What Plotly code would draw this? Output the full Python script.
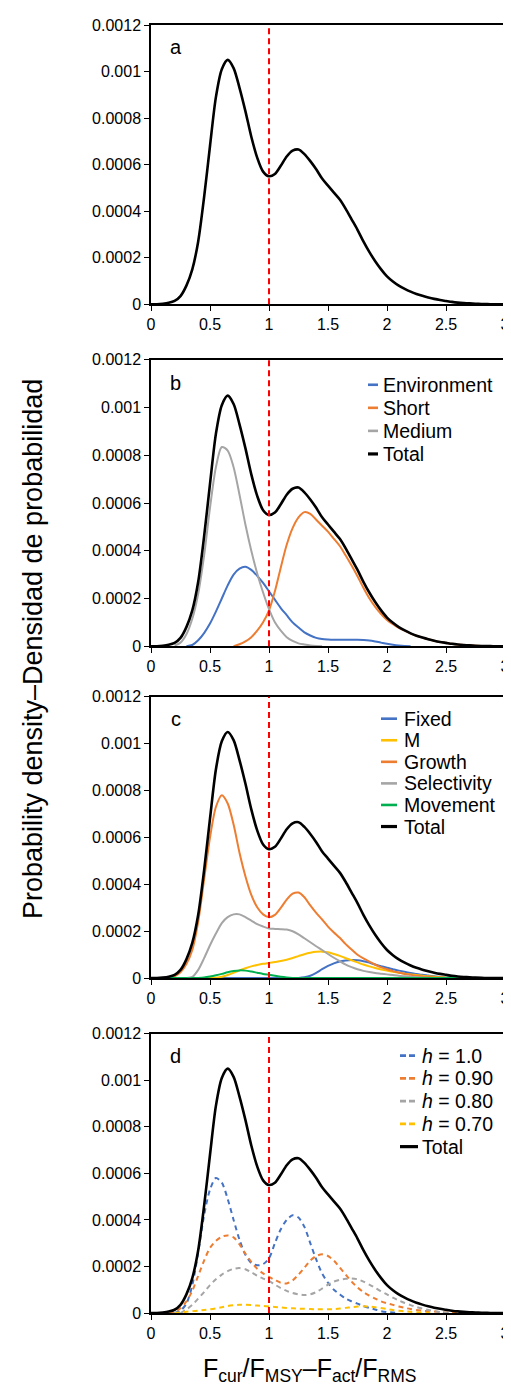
import plotly.graph_objects as go

# x grid (F ratio); density values below are in units of 1e-4
X = [0, 0.05, 0.1, 0.15, 0.2, 0.25, 0.3, 0.35, 0.4, 0.45, 0.5, 0.55, 0.6, 0.65, 0.7, 0.75,
     0.8, 0.85, 0.9, 0.95, 1.0, 1.05, 1.1, 1.15, 1.2, 1.25, 1.3, 1.35, 1.4, 1.45, 1.5, 1.55,
     1.6, 1.65, 1.7, 1.75, 1.8, 1.85, 1.9, 1.95, 2.0, 2.05, 2.1, 2.15, 2.2, 2.25, 2.3, 2.35,
     2.4, 2.45, 2.5, 2.55, 2.6, 2.65, 2.7, 2.75, 2.8, 2.85, 2.9, 2.95, 3.0]
SCALE = 1e-4
N = None

TOTAL = [0, 0, 0.02, 0.06, 0.14, 0.35, 0.8, 1.5, 2.7, 4.6, 6.8,
         8.9, 10.1, 10.5, 10.15, 9.3, 8.3, 7.2, 6.3, 5.7, 5.5,
         5.6, 5.95, 6.35, 6.6, 6.65, 6.45, 6.15, 5.8, 5.4, 5.1,
         4.8, 4.5, 4.1, 3.65, 3.2, 2.7, 2.25, 1.85, 1.5, 1.2,
         0.98, 0.8, 0.66, 0.54, 0.44, 0.36, 0.29, 0.23, 0.18, 0.14,
         0.1, 0.07, 0.05, 0.035, 0.02, 0.01, 0.005, 0, 0, 0]

# Panel b
ENVIRONMENT = [N, N, N, N, N, N, 0, 0.05, 0.25, 0.55, 0.95,
               1.45, 2.0, 2.55, 3.0, 3.25, 3.33, 3.2, 2.95, 2.65, 2.3,
               1.95, 1.6, 1.3, 1.0, 0.78, 0.58, 0.45, 0.35, 0.3, 0.28,
               0.27, 0.27, 0.27, 0.27, 0.27, 0.26, 0.24, 0.2, 0.15, 0.1,
               0.06, 0.03, 0.01, 0, N, N, N, N, N, N,
               N, N, N, N, N, N, N, N, N, N]
SHORT = [N, N, N, N, N, N, N, N, N, N, N,
         N, N, N, 0, 0.08, 0.2, 0.38, 0.65, 1.0, 1.5,
         2.3, 3.3, 4.25, 4.95, 5.4, 5.62, 5.55, 5.3, 5.05, 4.8,
         4.5, 4.2, 3.8, 3.38, 2.93, 2.45, 2.01, 1.65, 1.35, 1.1,
         0.92, 0.77, 0.65, 0.54, 0.44, 0.36, 0.29, 0.23, 0.18, 0.14,
         0.1, 0.07, 0.05, 0.035, 0.02, 0.01, 0.005, 0, N, N]
MEDIUM = [N, N, N, N, 0.03, 0.15, 0.5, 1.15, 2.2, 3.8, 5.8,
          7.5, 8.35, 8.2, 7.5, 6.35, 5.1, 4.0, 3.05, 2.25, 1.55,
          1.0, 0.65, 0.38, 0.22, 0.12, 0.07, 0.03, 0.01, 0, N,
          N, N, N, N, N, N, N, N, N, N,
          N, N, N, N, N, N, N, N, N, N,
          N, N, N, N, N, N, N, N, N, N]

# Panel c
FIXED = [0, 0, 0, 0, 0, 0, 0, 0, 0, 0, 0,
         0, 0, 0, 0, 0, 0, 0, 0, 0, 0,
         0, 0, 0, 0, 0.01, 0.04, 0.1, 0.22, 0.38, 0.52,
         0.63, 0.71, 0.75, 0.77, 0.76, 0.72, 0.66, 0.58, 0.51, 0.44,
         0.38, 0.32, 0.27, 0.22, 0.18, 0.14, 0.11, 0.08, 0.05, 0.03,
         0.01, 0, 0, 0, 0, 0, 0, 0, 0, 0]
M_NAT = [0, 0, 0, 0, 0, 0, 0, 0, 0, 0, 0,
         0.02, 0.06, 0.13, 0.23, 0.33, 0.42, 0.5, 0.56, 0.61, 0.65,
         0.69, 0.73, 0.78, 0.86, 0.94, 1.02, 1.08, 1.12, 1.13, 1.1,
         1.03, 0.95, 0.85, 0.76, 0.67, 0.58, 0.5, 0.43, 0.37, 0.32,
         0.27, 0.23, 0.19, 0.16, 0.13, 0.1, 0.08, 0.06, 0.04, 0.02,
         0.01, 0, 0, 0, 0, 0, 0, 0, 0, 0]
GROWTH = [0, 0, 0, 0.02, 0.08, 0.25, 0.6, 1.2, 2.4, 4.2, 6.0,
          7.3, 7.8, 7.45, 6.55, 5.35, 4.35, 3.55, 3.02, 2.72, 2.6,
          2.7, 3.0, 3.35, 3.6, 3.65, 3.45, 3.1, 2.78, 2.5, 2.2,
          1.95, 1.72, 1.45, 1.22, 1.0, 0.84, 0.7, 0.57, 0.46, 0.38,
          0.3, 0.24, 0.18, 0.14, 0.1, 0.07, 0.05, 0.03, 0.02, 0.01,
          0, 0, 0, 0, 0, 0, 0, 0, 0, 0]
SELECTIVITY = [0, 0, 0, 0, 0, 0, 0, 0.05, 0.35, 0.85, 1.4,
               1.9, 2.35, 2.6, 2.72, 2.72, 2.6, 2.45, 2.3, 2.2, 2.12,
               2.1, 2.09, 2.07, 2.0, 1.87, 1.7, 1.53, 1.36, 1.2, 1.03,
               0.87, 0.72, 0.58, 0.47, 0.38, 0.31, 0.26, 0.22, 0.19, 0.16,
               0.13, 0.1, 0.08, 0.06, 0.04, 0.02, 0.01, 0, 0, 0,
               0, 0, 0, 0, 0, 0, 0, 0, 0, 0]
MOVEMENT = [0, 0, 0, 0, 0, 0, 0, 0, 0.01, 0.03, 0.07,
            0.12, 0.18, 0.25, 0.3, 0.33, 0.32, 0.28, 0.23, 0.18, 0.14,
            0.1, 0.06, 0.03, 0.01, 0, 0, 0, 0, 0, 0,
            0, 0, 0, 0, 0, 0, 0, 0, 0, 0,
            0, 0, 0, 0, 0, 0, 0, 0, 0, 0,
            0, 0, 0, 0, 0, 0, 0, 0, 0, 0]

# Panel d (steepness h)
H100 = [N, N, N, N, 0, 0.1, 0.4, 1.2, 2.6, 4.2, 5.3,
        5.8, 5.6, 4.9, 4.0, 3.15, 2.5, 2.15, 2.05, 2.1, 2.35,
        3.0, 3.6, 4.0, 4.2, 4.1, 3.7, 3.0, 2.3, 1.7, 1.3,
        1.0, 0.8, 0.62, 0.5, 0.4, 0.3, 0.22, 0.15, 0.08, 0.04,
        0.02, 0, N, N, N, N, N, N, N, N,
        N, N, N, N, N, N, N, N, N, N]
H090 = [N, N, N, 0, 0.05, 0.2, 0.5, 0.95, 1.6, 2.25, 2.8,
        3.1, 3.28, 3.33, 3.25, 2.95, 2.55, 2.2, 1.9, 1.7, 1.55,
        1.42, 1.3, 1.27, 1.4, 1.65, 1.95, 2.25, 2.45, 2.52, 2.45,
        2.25, 1.95, 1.65, 1.35, 1.1, 0.9, 0.75, 0.62, 0.5, 0.42,
        0.35, 0.28, 0.22, 0.17, 0.13, 0.1, 0.08, 0.06, 0.04, 0.02,
        0.01, 0, N, N, N, N, N, N, N, N]
H080 = [N, N, N, N, N, 0, 0.15, 0.35, 0.62, 0.9, 1.2,
        1.45, 1.65, 1.8, 1.9, 1.93, 1.88, 1.75, 1.6, 1.48, 1.38,
        1.22, 1.07, 0.95, 0.86, 0.8, 0.77, 0.8, 0.9, 1.05, 1.22,
        1.35, 1.43, 1.47, 1.48, 1.45, 1.35, 1.22, 1.08, 0.93, 0.8,
        0.66, 0.54, 0.43, 0.34, 0.26, 0.19, 0.13, 0.08, 0.04, 0.02,
        0, N, N, N, N, N, N, N, N, N]
H070 = [N, N, N, N, 0, 0.02, 0.05, 0.08, 0.1, 0.13, 0.16,
        0.2, 0.25, 0.3, 0.33, 0.35, 0.35, 0.34, 0.32, 0.3, 0.28,
        0.26, 0.24, 0.22, 0.2, 0.19, 0.18, 0.17, 0.16, 0.16, 0.16,
        0.17, 0.19, 0.22, 0.25, 0.28, 0.29, 0.28, 0.25, 0.21, 0.17,
        0.13, 0.1, 0.07, 0.05, 0.03, 0.02, 0.01, 0, N, N,
        N, N, N, N, N, N, N, N, N, N]

for arr in [TOTAL, ENVIRONMENT, SHORT, MEDIUM, FIXED, M_NAT, GROWTH, SELECTIVITY,
            MOVEMENT, H100, H090, H080, H070]:
    assert len(arr) == len(X), len(arr)

PANEL_LABELS = ["a", "b", "c", "d"]
X_TICKS = [0, 0.5, 1, 1.5, 2, 2.5, 3]
X_TICKTEXT = ["0", "0.5", "1", "1.5", "2", "2.5", "3"]
Y_TICKS = [0, 0.0002, 0.0004, 0.0006, 0.0008, 0.001, 0.0012]
Y_TICKTEXT = ["0", "0.0002", "0.0004", "0.0006", "0.0008", "0.001", "0.0012"]

BLUE, ORANGE, GRAY, YELLOW, GREEN = "#4472C4", "#ED7D31", "#A5A5A5", "#FFC000", "#00B050"
FONT = "Liberation Sans, Arial, sans-serif"
DASH = "5px,4px"

# (name, values, colour, width, dash) per panel; legend order as in the reference
PANELS = [
    [("Total", TOTAL, "black", 2.6, None)],
    [("Environment", ENVIRONMENT, BLUE, 2.0, None),
     ("Short", SHORT, ORANGE, 2.0, None),
     ("Medium", MEDIUM, GRAY, 2.0, None),
     ("Total", TOTAL, "black", 2.6, None)],
    [("Fixed", FIXED, BLUE, 2.0, None),
     ("M", M_NAT, YELLOW, 2.0, None),
     ("Growth", GROWTH, ORANGE, 2.0, None),
     ("Selectivity", SELECTIVITY, GRAY, 2.0, None),
     ("Movement", MOVEMENT, GREEN, 2.0, None),
     ("Total", TOTAL, "black", 2.6, None)],
    [("<i>h</i> = 1.0", H100, BLUE, 2.0, DASH),
     ("<i>h</i> = 0.90", H090, ORANGE, 2.0, DASH),
     ("<i>h</i> = 0.80", H080, GRAY, 2.0, DASH),
     ("<i>h</i> = 0.70", H070, YELLOW, 2.0, DASH),
     ("Total", TOTAL, "black", 2.6, None)],
]

# legend key layout (page pixels): (key x0, key x1, text x, first row y, row step)
LEGEND_POS = [None,
              (368, 378, 381, 379, 23.2),
              (381, 397, 402, 715, 21.7),
              (400, 418, 420, 1054, 22.9)]

# plot area in page pixels
PL, PR, PT, PB = 151, 505, 17, 1313
YDOMAINS = [[0.7832, 1.0], [0.5177, 0.740], [0.260, 0.4784], [0.0, 0.2168]]


def pxx(px):
    return (px - PL) / (PR - PL)


def pxy(py):
    return (PB - py) / (PB - PT)


def sc(arr):
    return [None if v is None else v * SCALE for v in arr]


fig = go.Figure()
shapes = []
annotations = []

for i, series in enumerate(PANELS):
    sx = "" if i == 0 else str(i + 1)
    for name, vals, color, width, dash in series:
        line = dict(color=color, width=width, shape="spline", smoothing=0.8)
        if dash:
            line["dash"] = dash
        fig.add_trace(go.Scatter(x=X, y=sc(vals), mode="lines", name=name, line=line,
                                 xaxis=f"x{sx}", yaxis=f"y{sx}", showlegend=False,
                                 hoverinfo="skip"))
    if LEGEND_POS[i]:
        kx0, kx1, tx, ry, step = LEGEND_POS[i]
        for j, (name, vals, color, width, dash) in enumerate(series):
            yy = ry + j * step
            ln = dict(color=color, width=width + 0.6)
            if dash:
                ln["dash"] = "6px,3px"
            shapes.append(dict(type="line", xref="paper", yref="paper",
                               x0=pxx(kx0), x1=pxx(kx1), y0=pxy(yy), y1=pxy(yy), line=ln))
            annotations.append(dict(text=name, xref="paper", yref="paper",
                                    x=pxx(tx), y=pxy(yy), xanchor="left", yanchor="middle",
                                    showarrow=False,
                                    font=dict(family=FONT, size=19.5, color="black")))

axis_common = dict(showgrid=False, zeroline=False, showline=True, linecolor="black",
                   linewidth=1.5, mirror=True, ticks="outside", ticklen=5, tickwidth=1,
                   tickcolor="black", tickfont=dict(family=FONT, size=16, color="black"))

# the page body adds an 8px offset, so margins are given relative to that
OFF = 8
W, H = 511, 1399
layout = dict(
    width=W, height=H,
    margin=dict(l=PL - OFF, r=W - (PR - OFF), t=PT - OFF, b=H - (PB - OFF)),
    paper_bgcolor="white", plot_bgcolor="white",
    font=dict(family=FONT, size=16, color="black"),
    showlegend=False,
)
for i in range(4):
    sx = "" if i == 0 else str(i + 1)
    layout[f"xaxis{sx}"] = dict(axis_common, domain=[0, 1], anchor=f"y{sx}", range=[0, 3],
                                tickvals=X_TICKS, ticktext=X_TICKTEXT)
    layout[f"yaxis{sx}"] = dict(axis_common, domain=YDOMAINS[i], anchor=f"x{sx}",
                                range=[0, 0.0012], tickvals=Y_TICKS, ticktext=Y_TICKTEXT)
    shapes.append(dict(type="line", xref=f"x{sx}", yref=f"y{sx} domain", x0=1, x1=1, y0=0, y1=1,
                       line=dict(color="#FF0000", width=2, dash="6px,4px")))
    annotations.append(dict(text=PANEL_LABELS[i], xref=f"x{sx} domain", yref=f"y{sx} domain",
                            x=0.07, y=0.92, xanchor="center", yanchor="middle",
                            showarrow=False, font=dict(family=FONT, size=20, color="black")))

annotations.append(dict(text="F<sub>cur</sub>/F<sub>MSY</sub>–F<sub>act</sub>/F<sub>RMS</sub>",
                        xref="paper", yref="paper", x=pxx(309), y=pxy(1370), xanchor="center",
                        yanchor="middle", showarrow=False,
                        font=dict(family=FONT, size=25, color="black")))
annotations.append(dict(text="Probability density–Densidad de probabilidad",
                        xref="paper", yref="paper", x=pxx(33), y=pxy(645), xanchor="center",
                        yanchor="middle", textangle=-90, showarrow=False,
                        font=dict(family=FONT, size=27, color="black")))

layout["shapes"] = shapes
layout["annotations"] = annotations
fig.update_layout(**layout)
fig.write_html("out.html")
